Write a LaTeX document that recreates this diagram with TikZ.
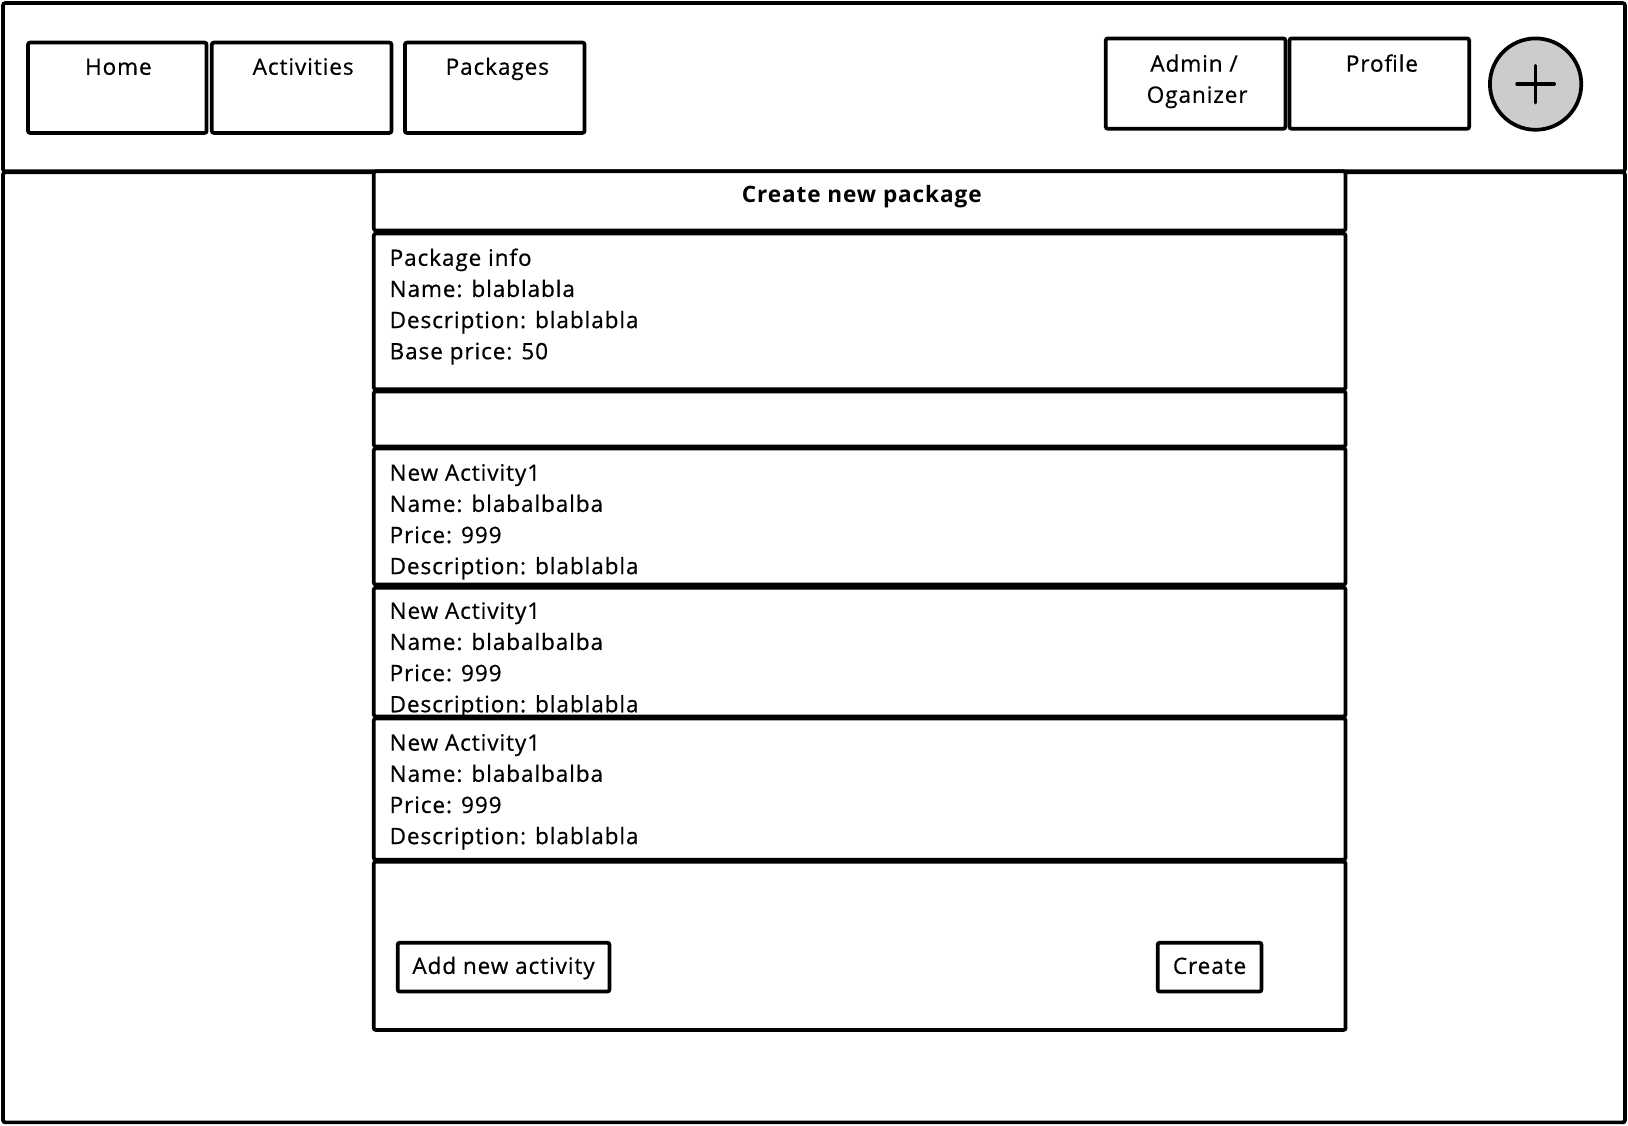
\documentclass[tikz,border=0pt]{standalone}
\usepackage{fontspec}
\setmainfont{Open Sans}[LetterSpace=4, FakeBold=0.6, BoldFeatures={FakeBold=0}]
\begin{document}
\begin{tikzpicture}[x=0.75pt,y=-0.75pt,
  box/.style={draw=black, line width=2.7pt, fill=white, rounded corners=1.5pt,
    inner sep=0pt, outer sep=0pt, anchor=north west},
  txt/.style={font=\fontsize{16.3}{22.5}\selectfont, inner sep=0pt, anchor=base west},
  ctxt/.style={font=\fontsize{16.3}{22.5}\selectfont, inner sep=0pt, anchor=base},
  ttl/.style={font=\fontsize{16.3}{22.5}\selectfont\bfseries, inner sep=0pt, anchor=base}]
\useasboundingbox (0,0) rectangle (1568,1084);
\newcommand\uibox[5]{\node[box, minimum width={(#4-#2)*0.75pt}, minimum height={(#5-#3)*0.75pt}] (#1) at (#2,#3) {};}
% page frame
\uibox{body}{3}{166}{1565}{1081}
\uibox{header}{3}{3}{1565}{165}
% nav buttons
\uibox{home}{27}{41}{199}{128}
\uibox{activities}{204}{41}{377}{128}
\uibox{packages}{390}{41}{563}{128}
\uibox{admin}{1065}{37}{1238}{124}
\uibox{profile}{1242}{37}{1415}{124}
\node[ctxt] (homet) at (114,72) {Home};
\node[ctxt] (activitiest) at (292,72) {Activities};
\node[ctxt] (packagest) at (479,72) {Packages};
\node[ctxt] (admint1) at (1150,69) {Admin /};
\node[ctxt] (admint2) at (1153,99) {Oganizer};
\node[ctxt] (profilet) at (1331,69) {Profile};
\node[circle, draw=black, line width=2.7pt, fill=black!20, inner sep=0pt,
  minimum size={88*0.75pt}] (plus) at (1479,81) {};
\draw[line width=2.4pt, line cap=round] (plus.center) ++(-18,0) -- ++(36,0);
\draw[line width=2.4pt, line cap=round] (plus.center) ++(0,-18) -- ++(0,36);
% central column
\uibox{title}{360}{165}{1296}{222}
\node[ttl] (titlet) at (830,195) {Create new package};
\uibox{pkginfo}{360}{225}{1296}{375}
\foreach \t [count=\i] in {Package info, Name: blablabla, Description: blablabla, Base price: 50}
  \node[txt] (pi\i) at (375,226+30*\i) {\t};
\uibox{spacer}{360}{377}{1296}{430}
\uibox{actA}{360}{432}{1296}{563}
\foreach \t [count=\i] in {New Activity1, Name: blabalbalba, Price: 999, Description: blablabla}
  \node[txt] (a\i) at (375,433+30*\i) {\t};
\uibox{actB}{360}{566}{1296}{690}
\foreach \t [count=\i] in {New Activity1, Name: blabalbalba, Price: 999, Description: blablabla}
  \node[txt] (b\i) at (375,566+30*\i) {\t};
\uibox{actC}{360}{692}{1296}{828}
\foreach \t [count=\i] in {New Activity1, Name: blabalbalba, Price: 999, Description: blablabla}
  \node[txt] (c\i) at (375,693+30*\i) {\t};
\uibox{bottom}{360}{830}{1296}{992}
\uibox{addbtn}{383}{908}{587}{955}
\node[ctxt] (addt) at (485,938) {Add new activity};
\uibox{createbtn}{1115}{908}{1215}{955}
\node[ctxt] (createt) at (1165,938) {Create};
\end{tikzpicture}
\end{document}
